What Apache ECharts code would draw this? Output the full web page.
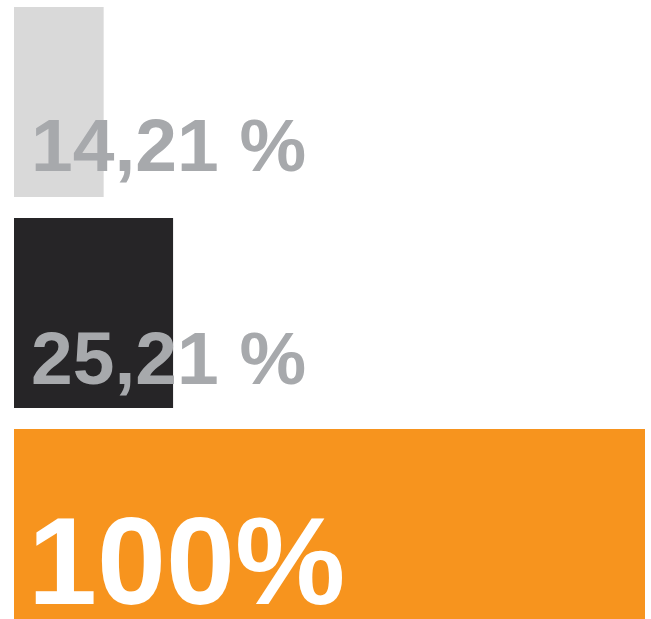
<!DOCTYPE html>
<html>
<head>
<meta charset="utf-8">
<script src="https://cdn.jsdelivr.net/npm/echarts@6/dist/echarts.min.js"></script>
<style>
html,body{margin:0;padding:0;background:#fff;}
#chart{width:651px;height:619px;}
</style>
</head>
<body>
<div id="chart"></div>
<script>
var categories = ['A', 'B', 'C'];
var values = [14.21, 25.21, 100];
var labels = ['14,21 %', '25,21 %', '100%'];
var colors = ['#d9d9d9', '#262527', '#f7941e'];
var labelColors = ['#a7a9ac', '#a7a9ac', '#ffffff'];
var labelSizes = [75, 75, 124];
var labelOffsets = [[17, 143], [17, 145], [14, 141]];

var chart = echarts.init(document.getElementById('chart'), null, {renderer: 'canvas'});
var data = values.map(function (v, i) {
  return {
    value: v,
    itemStyle: {color: colors[i]},
    label: {
      show: true,
      position: labelOffsets[i],
      align: 'left',
      verticalAlign: 'middle',
      formatter: labels[i],
      color: labelColors[i],
      fontSize: labelSizes[i],
      fontWeight: 'bold',
      fontFamily: '"Liberation Sans", Arial, sans-serif'
    }
  };
});
chart.setOption({
  animation: false,
  backgroundColor: '#ffffff',
  grid: {left: 14, width: 631, top: -3.5, height: 633, containLabel: false, outerBoundsMode: 'none'},
  xAxis: {type: 'value', min: 0, max: 100, show: false},
  yAxis: {type: 'category', data: categories, inverse: true, show: false},
  series: [{
    type: 'bar',
    barWidth: 190,
    data: data
  }]
});
</script>
</body>
</html>
